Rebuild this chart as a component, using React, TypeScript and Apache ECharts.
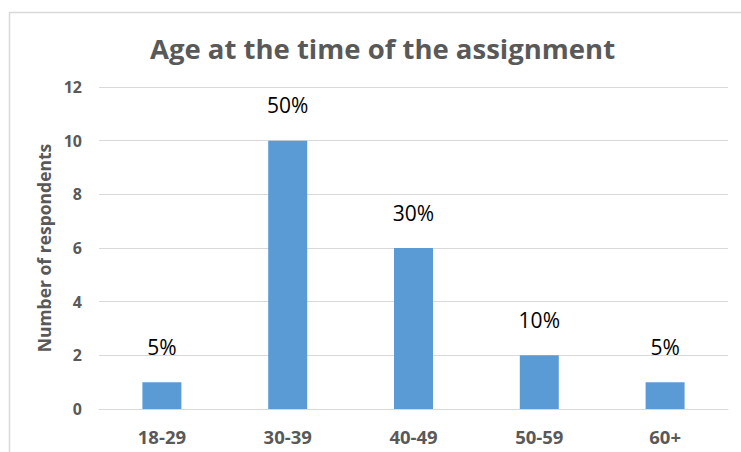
import React, { useEffect, useRef } from "react";
import * as echarts from "echarts";

const categories = ["18-29", "30-39", "40-49", "50-59", "60+"];
const respondents = [1, 10, 6, 2, 1];
const percentLabels = ["5%", "50%", "30%", "10%", "5%"];
const yTicks = { min: 0, max: 12, interval: 2 };
const titleText = "Age at the time of the assignment";
const yAxisTitle = "Number of respondents";

const FONT = "'Open Sans', sans-serif";

export default function App() {
  const ref = useRef<HTMLDivElement>(null);
  useEffect(() => {
    if (!ref.current) return;
    const chart = echarts.init(ref.current, null, { renderer: "svg" });
    chart.setOption({
      animation: false,
      backgroundColor: "#ffffff",
      textStyle: { fontFamily: FONT },
      title: {
        text: titleText,
        left: 377.5,
        top: 29,
        textAlign: "center",
        textStyle: { fontFamily: FONT, fontSize: 27.5, fontWeight: "bold", color: "#595959" },
      },
      graphic: [
        {
          type: "rect",
          shape: { x: 9.5, y: 12.5, width: 800, height: 600 },
          style: { fill: "none", stroke: "#D9D9D9", lineWidth: 1.5 },
          silent: true,
        },
      ],
      grid: { left: 99, right: 13, top: 87, bottom: 43, containLabel: false },
      xAxis: {
        type: "category",
        data: categories,
        axisLine: { show: true, lineStyle: { color: "#D9D9D9", width: 1 } },
        axisTick: { show: false },
        axisLabel: { fontFamily: FONT, fontSize: 18.5, fontWeight: "bold", color: "#595959", margin: 18 },
      },
      yAxis: {
        type: "value",
        min: yTicks.min,
        max: yTicks.max,
        interval: yTicks.interval,
        name: yAxisTitle,
        nameLocation: "middle",
        nameGap: 43,
        nameRotate: 90,
        nameTextStyle: { fontFamily: FONT, fontSize: 17.5, fontWeight: "bold", color: "#595959" },
        axisLine: { show: false },
        axisTick: { show: false },
        splitLine: { show: true, lineStyle: { color: "#D9D9D9", width: 1 } },
        axisLabel: { fontFamily: FONT, fontSize: 16, fontWeight: "bold", color: "#595959", margin: 17 },
      },
      series: [
        {
          type: "bar",
          data: respondents.map((v, i) => ({ value: v, label: { formatter: percentLabels[i] } })),
          barWidth: 39,
          itemStyle: { color: "#5B9BD5" },
          label: {
            show: true,
            position: "top",
            distance: 25,
            fontFamily: FONT,
            fontSize: 21,
            color: "#000000",
          },
        },
      ],
    });
    return () => chart.dispose();
  }, []);
  return (
    <div
      ref={ref}
      style={{ position: "fixed", left: 0, top: 0, width: 741, height: 452 }}
    />
  );
}
